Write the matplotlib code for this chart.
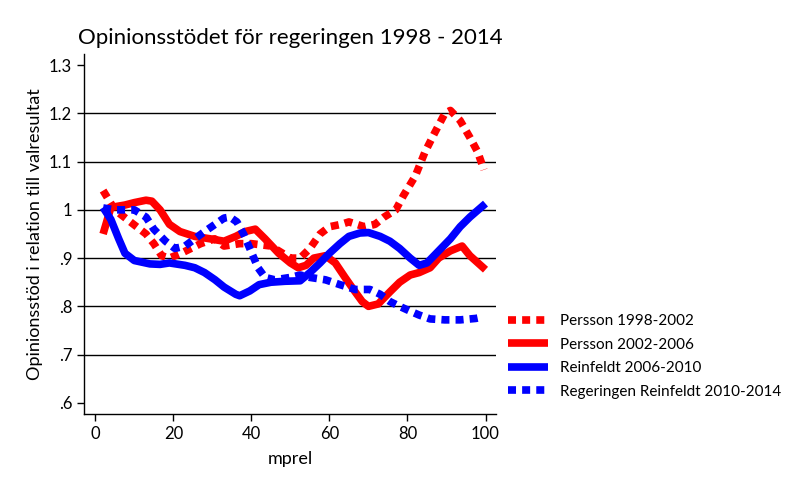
import matplotlib
matplotlib.use("Agg")
import matplotlib.pyplot as plt

plt.rcParams["font.family"] = ["Lato", "DejaVu Sans"]

# values
x_p98 = [2, 5, 9, 13, 15, 17, 19, 22, 27, 30.6, 33, 37, 40, 45, 50, 52.5, 55, 57.6,
         60, 63, 65, 69, 71.7, 74, 77, 79, 82, 84.5, 87, 89.6, 91, 93.5, 96, 98, 99.6]
y_p98 = [1.04, 1.0, 0.975, 0.95, 0.93, 0.905, 0.9, 0.91, 0.93, 0.94, 0.925, 0.93, 0.93,
         0.925, 0.9, 0.9, 0.92, 0.95, 0.965, 0.97, 0.975, 0.965, 0.97, 0.985, 1.0, 1.03,
         1.07, 1.12, 1.16, 1.2, 1.206, 1.185, 1.15, 1.12, 1.083]

x_p02 = [2, 4, 7.6, 10, 13, 14.5, 16.6, 19, 21.7, 25.5, 29.4, 33, 36, 38.4, 41, 43.5,
         47, 50, 52, 54, 56, 59, 61.5, 64, 66.6, 68.4, 70, 72.5, 75.5, 78, 80.7, 83,
         85.8, 88, 91, 94, 96, 100]
y_p02 = [0.95, 1.005, 1.01, 1.015, 1.02, 1.018, 1.0, 0.97, 0.955, 0.945, 0.94, 0.935,
         0.945, 0.955, 0.96, 0.94, 0.91, 0.89, 0.88, 0.885, 0.9, 0.905, 0.89, 0.86,
         0.83, 0.81, 0.8, 0.805, 0.83, 0.85, 0.865, 0.87, 0.88, 0.9, 0.915, 0.925,
         0.905, 0.876]

x_r06 = [2, 4, 6, 7.6, 10, 14, 16.6, 19, 23, 25.5, 28, 30.7, 33, 36, 37, 39.6, 42, 45,
         48.6, 52.5, 55, 57.6, 60, 62.7, 65, 67.8, 70, 73, 75.5, 78, 80.7, 83, 85, 88,
         91, 93.5, 96, 100]
y_r06 = [1.005, 0.98, 0.94, 0.91, 0.895, 0.888, 0.887, 0.89, 0.885, 0.88, 0.87, 0.855,
         0.84, 0.825, 0.822, 0.832, 0.845, 0.85, 0.852, 0.853, 0.87, 0.89, 0.91, 0.93,
         0.945, 0.952, 0.953, 0.945, 0.935, 0.92, 0.9, 0.885, 0.89, 0.915, 0.94, 0.965,
         0.985, 1.013]

x_r10 = [2, 5, 7.6, 10, 13, 15, 18, 20.4, 23, 25.5, 28, 30.7, 33, 34.5, 36.3, 38, 39.6,
         41.7, 43.5, 46, 50, 52.5, 55, 59, 62.7, 66.6, 70.4, 73, 75.5, 78, 80.7, 83,
         85.8, 89.6, 93.5, 97.5, 98.7]
y_r10 = [1.004, 1.0, 1.0, 1.0, 0.985, 0.96, 0.935, 0.92, 0.925, 0.94, 0.955, 0.97,
         0.983, 0.985, 0.975, 0.95, 0.92, 0.88, 0.86, 0.855, 0.86, 0.865, 0.86, 0.855,
         0.845, 0.835, 0.835, 0.825, 0.81, 0.8, 0.79, 0.782, 0.774, 0.772, 0.772, 0.775,
         0.777]

dash = (0, (1.05, 0.8))
series = [
    (x_p98, y_p98, "#ff0000", dash, "Persson 1998-2002"),
    (x_p02, y_p02, "#ff0000", "-", "Persson 2002-2006"),
    (x_r06, y_r06, "#0000ff", "-", "Reinfeldt 2006-2010"),
    (x_r10, y_r10, "#0000ff", dash, "Regeringen Reinfeldt 2010-2014"),
]

y_ticks = [0.6, 0.7, 0.8, 0.9, 1.0, 1.1, 1.2, 1.3]
y_tick_labels = [".6", ".7", ".8", ".9", "1", "1.1", "1.2", "1.3"]
x_ticks = [0, 20, 40, 60, 80, 100]

fig = plt.figure(figsize=(8.02, 4.94), dpi=100)
ax = fig.add_axes([0.1047, 0.162, 0.5138, 0.7287])

# gridlines only between the outer ticks, as in the reference
for yv in y_ticks[1:-1]:
    ax.axhline(yv, color="black", linewidth=1.0, zorder=1)

for x, y, color, ls, label in series:
    ax.plot(x, y, color=color, linestyle=ls, linewidth=5.5, label=label,
            solid_capstyle="butt", dash_capstyle="butt", zorder=2)

ax.set_xlim(-2.9, 102.7)
ax.set_ylim(0.577, 1.323)
ax.set_yticks(y_ticks)
ax.set_yticklabels(y_tick_labels)
ax.set_xticks(x_ticks)
ax.tick_params(axis="both", labelsize=12, length=5, width=1, direction="out")
for side in ("top", "right"):
    ax.spines[side].set_visible(False)
for side in ("left", "bottom"):
    ax.spines[side].set_linewidth(1.0)

ax.set_xlabel("mprel", fontsize=13, labelpad=7)
ax.set_ylabel("Opinionsstöd i relation till valresultat", fontsize=13)
ax.set_title("Opinionsstödet för regeringen 1998 - 2014", fontsize=16, pad=7)

ax.legend(loc="center left", bbox_to_anchor=(1.03, 0.16), frameon=False,
          fontsize=11, handlelength=2.6, labelspacing=0.62, handletextpad=0.8,
          borderpad=0, borderaxespad=0)

fig.savefig("out.png", dpi=100)
